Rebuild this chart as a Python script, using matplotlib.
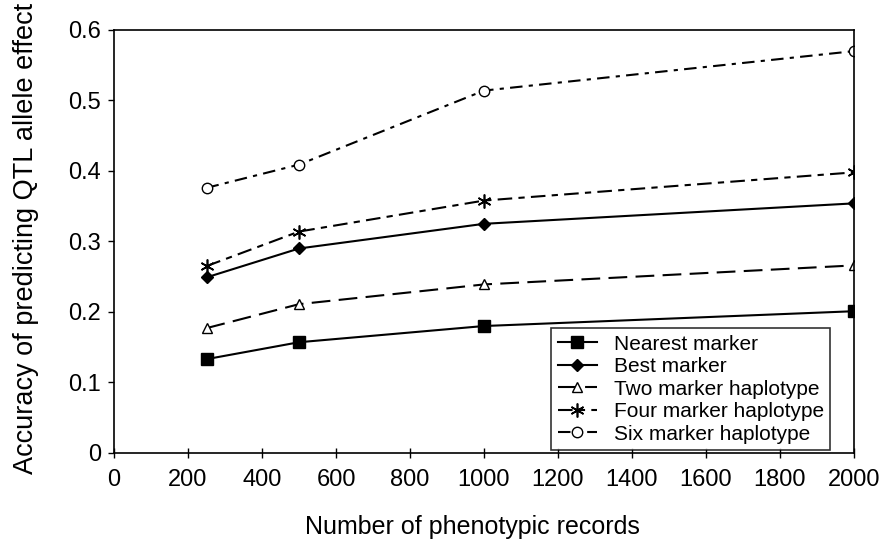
import matplotlib
matplotlib.use("Agg")
import matplotlib.pyplot as plt

plt.rcParams["font.family"] = ["Liberation Sans", "DejaVu Sans"]

records = [250, 500, 1000, 2000]
nearest = [0.133, 0.157, 0.180, 0.201]
best = [0.249, 0.290, 0.325, 0.354]
two_hap = [0.177, 0.211, 0.239, 0.266]
four_hap = [0.265, 0.314, 0.358, 0.398]
six_hap = [0.376, 0.409, 0.514, 0.570]

fig = plt.figure(figsize=(8.84, 5.45), dpi=100)
ax = fig.add_axes([0.129, 0.169, 0.837, 0.776])

ax.plot(records, nearest, color="black", lw=1.5, marker="s", ms=8.5,
        label="Nearest marker")
ax.plot(records, best, color="black", lw=1.5, marker="D", ms=6,
        label="Best marker")
ax.plot(records, two_hap, color="black", lw=1.5, ls=(0, (9, 4)),
        marker="^", ms=7.5, mfc="white", label="Two marker haplotype")
ax.plot(records, four_hap, color="black", lw=1.5, ls=(0, (7, 3, 3, 3)),
        marker=(6, 2, 0), ms=10, mew=1.2, label="Four marker haplotype")
ax.plot(records, six_hap, color="black", lw=1.5, ls=(0, (6, 3, 2, 3)),
        marker="o", ms=7.5, mfc="white", label="Six marker haplotype")

ax.set_xlim(0, 2000)
ax.set_ylim(0, 0.6)
ax.set_xticks(range(0, 2001, 200))
ax.set_yticks([0, 0.1, 0.2, 0.3, 0.4, 0.5, 0.6])
ax.set_yticklabels(["0", "0.1", "0.2", "0.3", "0.4", "0.5", "0.6"])
ax.tick_params(axis="both", labelsize=17, width=1, color="black")
ax.tick_params(axis="y", length=4.5, pad=5)
ax.tick_params(axis="x", direction="inout", length=7, pad=8)
for sp in ax.spines.values():
    sp.set_linewidth(1.2)

ax.set_xlabel("Number of phenotypic records", fontsize=18)
ax.set_ylabel("Accuracy of predicting QTL allele effect", fontsize=19.5)
ax.xaxis.set_label_coords(0.484, -0.148)
ax.yaxis.set_label_coords(-0.102, 0.506)

leg = ax.legend(loc="lower right", bbox_to_anchor=(0.968, 0.007), fontsize=15,
                frameon=True, fancybox=False, edgecolor="black",
                borderpad=0.3, labelspacing=0.17, handlelength=1.9,
                handletextpad=0.8, borderaxespad=0)
leg.get_frame().set_linewidth(1.2)

fig.savefig("out.png", dpi=100)
